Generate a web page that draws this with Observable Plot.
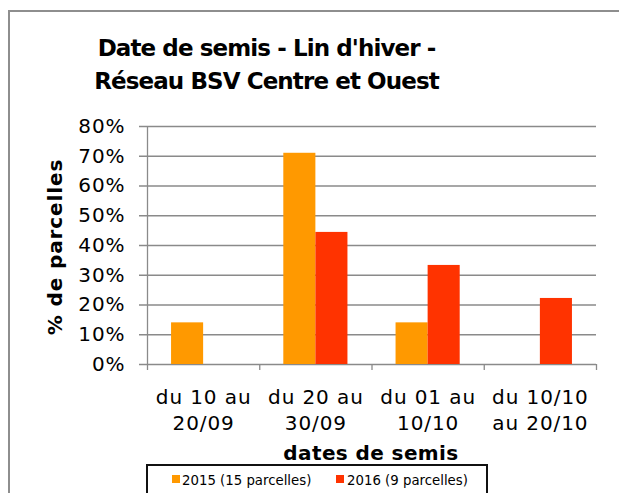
<!DOCTYPE html>
<html>
<head>
<meta charset="utf-8">
<script src="https://cdn.jsdelivr.net/npm/d3@7"></script>
<script src="https://cdn.jsdelivr.net/npm/@observablehq/plot@0.6"></script>
<style>
  html, body { margin: 0; padding: 0; background: #fff; overflow: hidden; }
  #wrap { position: relative; width: 619px; height: 493px; overflow: hidden; font-family: "DejaVu Sans", Verdana, sans-serif; color: #000; }
  #frame { position: absolute; left: 8px; top: 10px; width: 611px; height: 483px; box-sizing: border-box; border-left: 2px solid #8e8e8e; border-top: 2px solid #8e8e8e; }
  #chart { position: absolute; left: 0; top: 0; }
  #chart svg text { letter-spacing: 0.9px; }
  #title { position: absolute; left: 0; top: 32px; width: 533px; text-align: center; font-weight: bold; font-size: 23px; line-height: 33px; letter-spacing: -0.9px; }
  #ylabel { position: absolute; left: 55px; top: 247px; transform: translate(-50%, -50%) rotate(-90deg); font-weight: bold; font-size: 20px; line-height: 24px; white-space: nowrap; letter-spacing: 0.9px; }
  #xlabel { position: absolute; left: 371px; top: 441px; transform: translateX(-50%); font-weight: bold; font-size: 20px; line-height: 24px; white-space: nowrap; letter-spacing: 0.4px; }
  #legend { position: absolute; left: 146px; top: 464px; width: 342px; height: 60px; box-sizing: border-box; border: 2px solid #111; }
  .sw { position: absolute; width: 8px; height: 8px; top: 475px; }
  .lt { position: absolute; top: 473px; font-size: 13.3px; line-height: 15px; white-space: nowrap; }
</style>
</head>
<body>
<div id="wrap">
  <div id="frame"></div>
  <div id="chart"></div>
  <div id="title"></div>
  <div id="ylabel"></div>
  <div id="xlabel"></div>
  <div id="legend"></div>
</div>
<script>
const titleLines = ["Date de semis - Lin d'hiver -", "Réseau BSV Centre et Ouest"];
const yTitle = "% de parcelles";
const xTitle = "dates de semis";
const categories = ["c1", "c2", "c3", "c4"];
const categoryLabels = ["du 10 au\n20/09", "du 20 au\n30/09", "du 01 au\n10/10", "du 10/10\nau 20/10"];
const seriesNames = ["2015 (15 parcelles)", "2016 (9 parcelles)"];
const values2015 = [14, 71, 14, 0];
const values2016 = [0, 44.4, 33.3, 22.2];
const yTicks = [0, 10, 20, 30, 40, 50, 60, 70, 80];
const colors = ["#FF9900", "#FF3300"];

const W = 619, H = 493;
const mL = 147, mR = 23, mT = 126, mB = 129;
const bw = (W - mL - mR) / categories.length;
const gray = "#8a8a8a";
const labelOf = new Map(categories.map((c, i) => [c, categoryLabels[i]]));

const d2015 = categories.map((c, i) => ({cat: c, v: values2015[i]}));
const d2016 = categories.map((c, i) => ({cat: c, v: values2016[i]}));

const chart = Plot.plot({
  width: W, height: H,
  marginLeft: mL, marginRight: mR, marginTop: mT, marginBottom: mB,
  style: {fontFamily: "'DejaVu Sans', Verdana, sans-serif", background: "transparent", color: "#000", overflow: "visible"},
  x: {domain: categories, padding: 0, round: false, label: null},
  y: {domain: [0, 80], label: null},
  marks: [
    Plot.ruleY(yTicks, {y: d => d, stroke: gray, strokeWidth: 1.3, insetLeft: -8}),
    Plot.ruleX([categories[0]], {x: d => d, dx: -bw / 2, y1: 0, y2: 80, stroke: gray, strokeWidth: 1.3}),
    Plot.axisX({ticks: categories, tickSize: 6, dx: -bw / 2, tickFormat: () => "", stroke: gray, strokeWidth: 1.3, label: null}),
    Plot.axisX({ticks: [categories[categories.length - 1]], tickSize: 6, dx: bw / 2, tickFormat: () => "", stroke: gray, strokeWidth: 1.3, label: null}),
    Plot.barY(d2015, {x: "cat", y: "v", fill: colors[0], insetLeft: bw * 24 / 112, insetRight: bw * 56 / 112}),
    Plot.barY(d2016, {x: "cat", y: "v", fill: colors[1], insetLeft: bw * 56 / 112, insetRight: bw * 24 / 112}),
    Plot.axisY({ticks: yTicks, tickSize: 0, tickPadding: 22, fontSize: 20, tickFormat: d => d + "%", label: null}),
    Plot.axisX({ticks: categories, tickSize: 0, tickPadding: 21, fontSize: 20, lineHeight: 1.3, tickFormat: d => labelOf.get(d), label: null})
  ]
});
document.getElementById("chart").appendChild(chart);

document.getElementById("title").innerHTML = titleLines.join("<br>");
document.getElementById("ylabel").textContent = yTitle;
document.getElementById("xlabel").textContent = xTitle;

const wrap = document.getElementById("wrap");
const swX = [172, 336], txX = [182, 347];
seriesNames.forEach((name, i) => {
  const s = document.createElement("div");
  s.className = "sw"; s.style.left = swX[i] + "px"; s.style.background = colors[i];
  wrap.appendChild(s);
  const t = document.createElement("div");
  t.className = "lt"; t.style.left = txX[i] + "px"; t.textContent = name;
  wrap.appendChild(t);
});
</script>
</body>
</html>
